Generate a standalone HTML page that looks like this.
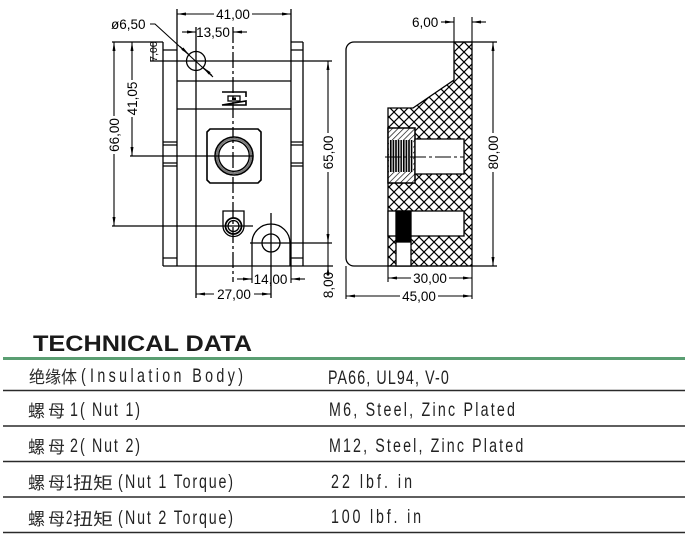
<!DOCTYPE html>
<html><head><meta charset="utf-8"><style>
html,body{margin:0;padding:0;background:#fff;}
svg{display:block}
.d{font-family:"Liberation Sans",sans-serif;font-size:13.5px;fill:#000}
.c{font-family:"Liberation Sans","Noto Sans CJK SC",sans-serif;font-size:17px;fill:#2a2a2a}
.l{font-family:"Liberation Sans","Noto Sans CJK SC",sans-serif;font-size:19px;fill:#222}
</style></head><body>
<svg width="700" height="554" viewBox="0 0 700 554" xmlns="http://www.w3.org/2000/svg">
<defs>
<marker id="a" viewBox="0 0 9 3" refX="9" refY="1.5" markerWidth="9" markerHeight="3" markerUnits="userSpaceOnUse" orient="auto"><path d="M0,0L9,1.5L0,3z" fill="#000"/></marker>
<pattern id="x" patternUnits="userSpaceOnUse" width="10" height="10" x="454" y="42"><path d="M0,0L10,10M10,0L0,10" stroke="#000" stroke-width="1.2"/></pattern>
<pattern id="s" patternUnits="userSpaceOnUse" width="4" height="4" patternTransform="rotate(45)"><line x1="0" y1="0" x2="0" y2="4" stroke="#000" stroke-width="1.3"/></pattern>
<pattern id="v" patternUnits="userSpaceOnUse" width="2.6" height="10"><rect x="0" y="0" width="1.6" height="10" fill="#000"/></pattern>
</defs>

<!-- LEFT VIEW -->
<g stroke="#000" stroke-width="1.3" fill="none">
<path d="M177,9V266M291,9V266"/>
<path d="M163,42V266M163,50H177M163,142H177M163,145H177M163,163H177M163,166H177M163,258H177"/>
<path d="M303,42V266M291,42H303M291,50H303M291,142H303M291,145H303M291,163H303M291,166H303M291,258H303"/>
<path d="M163,266H333"/>
<path d="M150,61H332"/>
<path d="M177,81H291M177,109H291"/>
<path d="M196,27V298"/>
<path d="M271,213V298"/>
<path d="M233,27V282" stroke-dasharray="16,3,3,3"/>
<circle cx="196" cy="61" r="9.5"/>
<path d="M222,92H246V97M246,101V105H222Z" stroke-width="1.6"/>
<rect x="228" y="96" width="12" height="5" stroke-width="1.3"/>
<rect x="232" y="97.5" width="4" height="2.5" fill="#000" stroke="none"/>
<path d="M210,129H258L261,132V180L258,183H210L207,180V132Z" stroke-width="1.6"/>
<circle cx="234" cy="156" r="19" stroke-width="1.6"/>
<circle cx="234" cy="156" r="17.2" stroke="#777" stroke-width="2"/>
<circle cx="234" cy="156" r="15.3" stroke-width="1.4"/>
<path d="M130,156H253"/>
<path d="M223,211H244V226A10.5,10.5 0 0 1 223,226Z"/>
<circle cx="233.5" cy="226" r="8" stroke-width="1.8"/>
<circle cx="233.5" cy="226" r="5.5"/>
<path d="M112,226H253"/>
<path d="M252,266V243A19,19 0 0 1 290,243V266"/>
<circle cx="271" cy="243" r="9"/>
<path d="M250,243H332"/>
<path d="M112,42H163"/>
</g>
<path d="M269,243H273" stroke="#000" stroke-width="1"/>

<g stroke="#000" stroke-width="1.1" fill="none">
<path d="M214,14H177" marker-end="url(#a)"/>
<path d="M252,14H291" marker-end="url(#a)"/>
<path d="M182,32H196" marker-end="url(#a)"/>
<path d="M247,32H233" marker-end="url(#a)"/>
<path d="M150,24H155L213,77"/>
<path d="M180,46.5L189,54.6" marker-end="url(#a)"/>
<path d="M212,75.5L203,67.4" marker-end="url(#a)"/>
<path d="M153,42V61"/>
<path d="M114,116V42" marker-end="url(#a)"/>
<path d="M114,154V226" marker-end="url(#a)"/>
<path d="M132,80V42" marker-end="url(#a)"/>
<path d="M132,117V156" marker-end="url(#a)"/>
<path d="M328,133V61" marker-end="url(#a)"/>
<path d="M328,172V243" marker-end="url(#a)"/>
<path d="M328,243V266"/>
<path d="M328,276V266" marker-end="url(#a)"/>
<path d="M237,279H252" marker-end="url(#a)"/>
<path d="M305,279H291" marker-end="url(#a)"/>
<path d="M252,266V283M291,266V283"/>
<path d="M214,294H196" marker-end="url(#a)"/>
<path d="M254,294H271" marker-end="url(#a)"/>
</g>
<g class="d">
<text x="233" y="19" text-anchor="middle">41,00</text>
<text x="213" y="37" text-anchor="middle">13,50</text>
<text x="111" y="29">ø6,50</text>
<text x="270.5" y="284" text-anchor="middle">14,00</text>
<text x="234" y="299" text-anchor="middle">27,00</text>
<text transform="translate(119,135) rotate(-90)" text-anchor="middle">66,00</text>
<text transform="translate(137,98.5) rotate(-90)" text-anchor="middle">41,05</text>
<text transform="translate(333,152.5) rotate(-90)" text-anchor="middle">65,00</text>
<text transform="translate(333,285) rotate(-90)" text-anchor="middle">8,00</text>
<text transform="translate(157,51.5) rotate(-90)" text-anchor="middle" font-size="10.5">7,00</text>
</g>

<!-- RIGHT VIEW -->
<g stroke="#000" stroke-width="1.3">
<path d="M497,42H354A8,8 0 0 0 346,50V258A8,8 0 0 0 354,266H497" fill="none"/>
<path d="M454,42H472V266H388V108H413L454,80Z" fill="url(#x)"/>
<rect x="388" y="128" width="27" height="55" fill="#fff"/>
<rect x="388" y="128" width="27" height="55" fill="url(#s)"/>
<rect x="389" y="140" width="24" height="32" fill="#fff" stroke="none"/>
<rect x="389" y="140" width="24" height="32" fill="url(#v)" stroke="none"/>
<rect x="415" y="139" width="49" height="35" fill="#fff"/>
<rect x="388" y="211" width="76" height="25" fill="#fff"/>
<rect x="396" y="211" width="15" height="31" fill="#000"/>
<rect x="396" y="242" width="15" height="24" fill="#fff"/>
</g>
<path d="M385,157H464" stroke="#000" stroke-width="1.1" stroke-dasharray="16,3,3,3" fill="none"/>
<g stroke="#000" stroke-width="1.1" fill="none">
<path d="M454,17V42M472,17V42"/>
<path d="M441,22H454" marker-end="url(#a)"/>
<path d="M486,22H472" marker-end="url(#a)"/>
<path d="M493,133V42" marker-end="url(#a)"/>
<path d="M493,172V266" marker-end="url(#a)"/>
<path d="M411,278H388" marker-end="url(#a)"/>
<path d="M449,278H472" marker-end="url(#a)"/>
<path d="M388,266V282M472,266V299M346,266V299"/>
<path d="M400,296H346" marker-end="url(#a)"/>
<path d="M438,296H472" marker-end="url(#a)"/>
</g>
<g class="d">
<text x="412" y="27">6,00</text>
<text x="430" y="283" text-anchor="middle">30,00</text>
<text x="419" y="301" text-anchor="middle">45,00</text>
<text transform="translate(498,152.5) rotate(-90)" text-anchor="middle">80,00</text>
</g>

<!-- TECHNICAL DATA -->
<text x="33" y="351" font-family="Liberation Sans,sans-serif" font-weight="bold" font-size="22" textLength="219" lengthAdjust="spacingAndGlyphs" fill="#1a1a1a">TECHNICAL DATA</text>
<rect x="3" y="357" width="682" height="3" fill="#5a9e72"/>
<g stroke="#2a2a2a" stroke-width="1.6">
<path d="M3,390.5H685M3,426H685M3,461.5H685M3,497H685M3,532.5H685"/>
</g>

<g class="c">
<text x="29" y="383" textLength="48" lengthAdjust="spacingAndGlyphs">绝缘体</text>
<text x="28" y="417">螺</text><text x="48" y="417">母</text>
<text x="28" y="453">螺</text><text x="48" y="453">母</text>
<text x="28" y="489">螺</text><text x="48" y="489">母</text>
<text x="73" y="489" textLength="40" lengthAdjust="spacingAndGlyphs">扭矩</text>
<text x="28" y="525">螺</text><text x="48" y="525">母</text>
<text x="73" y="525" textLength="40" lengthAdjust="spacingAndGlyphs">扭矩</text>
</g>
<g class="l">
<text transform="translate(81,382) scale(0.75,1)">(</text>
<text transform="translate(90,382) scale(0.75,1)" textLength="204" lengthAdjust="spacing">Insulation Body)</text>
<text transform="translate(70,416) scale(0.75,1)">1</text>
<text transform="translate(80,416) scale(0.75,1)">(</text>
<text transform="translate(92,416) scale(0.75,1)" textLength="64" lengthAdjust="spacing">Nut 1)</text>
<text transform="translate(70,452) scale(0.75,1)">2</text>
<text transform="translate(80,452) scale(0.75,1)">(</text>
<text transform="translate(92,452) scale(0.75,1)" textLength="64" lengthAdjust="spacing">Nut 2)</text>
<text transform="translate(66,488) scale(0.6,1)">1</text>
<text transform="translate(118,488) scale(0.75,1)">(</text>
<text transform="translate(125,488) scale(0.75,1)" textLength="144" lengthAdjust="spacing">Nut 1 Torque)</text>
<text transform="translate(66,524) scale(0.6,1)">2</text>
<text transform="translate(118,524) scale(0.75,1)">(</text>
<text transform="translate(125,524) scale(0.75,1)" textLength="144" lengthAdjust="spacing">Nut 2 Torque)</text>

<text transform="translate(328,384) scale(0.75,1)" textLength="161" lengthAdjust="spacing">PA66, UL94, V-0</text>
<text transform="translate(329,416) scale(0.75,1)" textLength="248" lengthAdjust="spacing">M6, Steel, Zinc Plated</text>
<text transform="translate(329,452) scale(0.75,1)" textLength="259" lengthAdjust="spacing">M12, Steel, Zinc Plated</text>
<text transform="translate(331,488) scale(0.75,1)" textLength="108" lengthAdjust="spacing">22 lbf. in</text>
<text transform="translate(331,523) scale(0.75,1)" textLength="120" lengthAdjust="spacing">100 lbf. in</text>
</g>
</svg>
</body></html>
